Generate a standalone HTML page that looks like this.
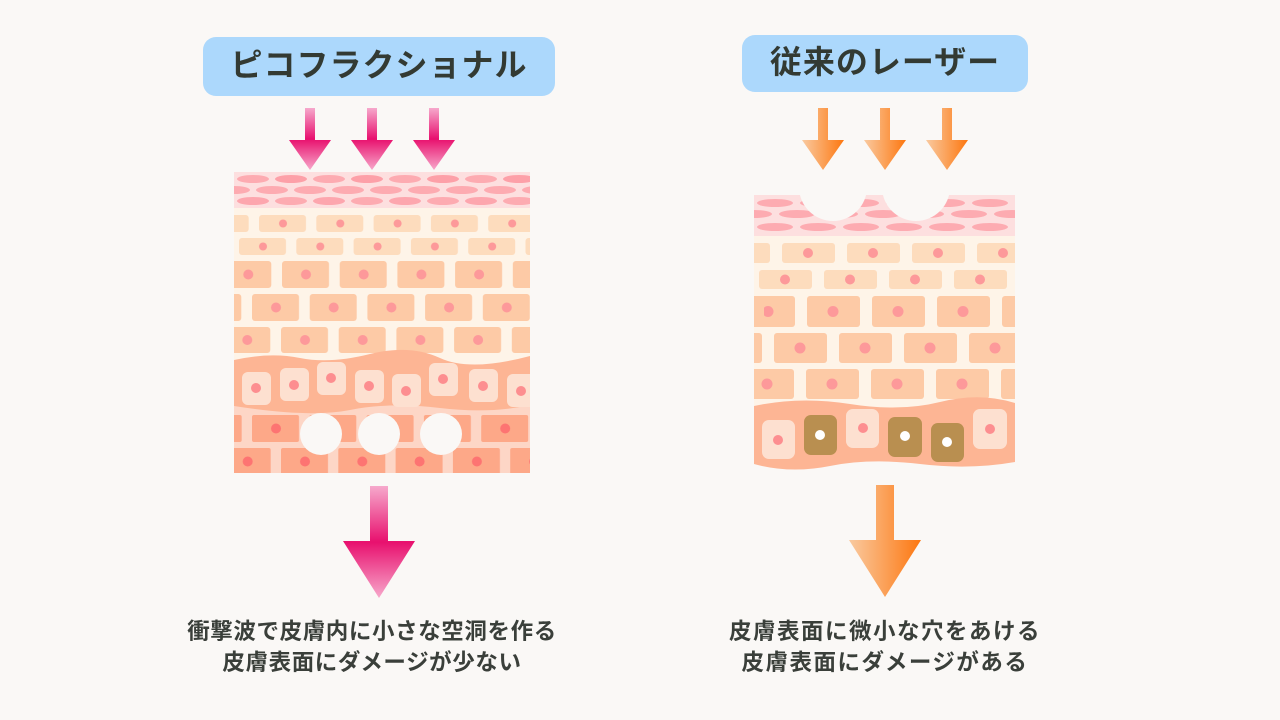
<!DOCTYPE html>
<html><head><meta charset="utf-8"><style>
html,body{margin:0;padding:0;background:#faf8f6;}
body{width:1280px;height:720px;position:relative;overflow:hidden;font-family:"Liberation Sans","Noto Sans CJK JP",sans-serif;}
.lbl{position:absolute;background:#acd8fc;border-radius:13px;color:#333a33;font-weight:bold;font-size:32px;text-align:center;letter-spacing:1px;}
.cap{position:absolute;width:500px;text-align:center;color:#3a3f3a;font-weight:bold;font-size:22.5px;line-height:31px;letter-spacing:0.6px;}
</style></head><body>
<div class="lbl" style="left:203px;top:37px;width:352px;height:59px;line-height:57px;">ピコフラクショナル</div>
<div class="lbl" style="left:742px;top:35px;width:286px;height:57px;line-height:55px;">従来のレーザー</div>
<div class="cap" style="left:122px;top:616px;">衝撃波で皮膚内に小さな空洞を作る<br>皮膚表面にダメージが少ない</div>
<div class="cap" style="left:635px;top:616px;letter-spacing:1.5px;">皮膚表面に微小な穴をあける<br>皮膚表面にダメージがある</div>
<svg width="1280" height="720" style="position:absolute;left:0;top:0" xmlns="http://www.w3.org/2000/svg">
<defs>
<linearGradient id="pk" x1="0" y1="0" x2="0" y2="1"><stop offset="0" stop-color="#f6a9cc"/><stop offset="0.5" stop-color="#e8106e"/><stop offset="1" stop-color="#f7a8cb"/></linearGradient>
<linearGradient id="or" x1="0" y1="0" x2="1" y2="0"><stop offset="0" stop-color="#f9caa0"/><stop offset="1" stop-color="#fd7710"/></linearGradient>
<symbol id="sa" overflow="visible"><path d="M-5 0H5V32H21L0 62L-21 32H-5Z"/></symbol>
<symbol id="ba" overflow="visible"><path d="M-9 0H9V55H36L0 112L-36 55H-9Z"/></symbol>
<pattern id="ov" patternUnits="userSpaceOnUse" x="234" y="172" width="76" height="36"><ellipse cx="19" cy="7" rx="16" ry="4" fill="#fdabb1"/><ellipse cx="57" cy="7" rx="16" ry="4" fill="#fda0a8"/><ellipse cx="38" cy="18" rx="16" ry="4" fill="#fdabb1"/><ellipse cx="0" cy="18" rx="16" ry="4" fill="#fdabb1"/><ellipse cx="76" cy="18" rx="16" ry="4" fill="#fdabb1"/><ellipse cx="19" cy="29" rx="16" ry="4" fill="#fda6ae"/><ellipse cx="57" cy="29" rx="16" ry="4" fill="#fdabb1"/></pattern>
<pattern id="l1" patternUnits="userSpaceOnUse" x="259" y="215" width="57.3" height="40"><rect x="0" y="0" width="47" height="17" rx="3" fill="#fddcbd"/><circle cx="24" cy="8.5" r="4" fill="#fd999a"/></pattern>
<pattern id="l2" patternUnits="userSpaceOnUse" x="239" y="238" width="57.3" height="40"><rect x="0" y="0" width="47" height="17" rx="3" fill="#fddcbd"/><circle cx="24" cy="8.5" r="4" fill="#fd999a"/></pattern>
<pattern id="l3" patternUnits="userSpaceOnUse" x="282" y="261" width="57.7" height="60"><rect x="0" y="0" width="47" height="27" rx="3" fill="#fdcaa6"/><circle cx="24" cy="13.5" r="5" fill="#fd999a"/></pattern>
<pattern id="l4" patternUnits="userSpaceOnUse" x="252" y="294" width="57.7" height="60"><rect x="0" y="0" width="47" height="27" rx="3" fill="#fdcaa6"/><circle cx="24" cy="13.5" r="5" fill="#fd999a"/></pattern>
<pattern id="l5" patternUnits="userSpaceOnUse" x="281" y="327" width="57.7" height="60"><rect x="0" y="0" width="47" height="26" rx="3" fill="#fdcaa6"/><circle cx="24" cy="13" r="5" fill="#fd999a"/></pattern>
<pattern id="d1" patternUnits="userSpaceOnUse" x="252" y="415" width="57.3" height="80"><rect x="0" y="0" width="47" height="27" rx="2" fill="#fda888"/><circle cx="24" cy="13.5" r="5" fill="#fd7472"/></pattern>
<pattern id="d2" patternUnits="userSpaceOnUse" x="281" y="448" width="57.3" height="80"><rect x="0" y="0" width="47" height="27" rx="2" fill="#fda888"/><circle cx="24" cy="13.5" r="5" fill="#fd7472"/></pattern>
<pattern id="ov2" patternUnits="userSpaceOnUse" x="754" y="196" width="86" height="40"><ellipse cx="21" cy="7" rx="18" ry="4" fill="#fdabb1"/><ellipse cx="64" cy="7" rx="18" ry="4" fill="#fdabb1"/><ellipse cx="43" cy="18" rx="18" ry="4" fill="#fdabb1"/><ellipse cx="0" cy="18" rx="18" ry="4" fill="#fdabb1"/><ellipse cx="86" cy="18" rx="18" ry="4" fill="#fdabb1"/><ellipse cx="21" cy="31" rx="18" ry="4" fill="#fdabb1"/><ellipse cx="64" cy="31" rx="18" ry="4" fill="#fdabb1"/></pattern>
<pattern id="r1" patternUnits="userSpaceOnUse" x="782" y="243" width="65" height="50"><rect x="0" y="0" width="53" height="20" rx="3" fill="#fddcbd"/><circle cx="26" cy="10" r="5" fill="#fd999a"/></pattern>
<pattern id="r2" patternUnits="userSpaceOnUse" x="759" y="270" width="65" height="50"><rect x="0" y="0" width="53" height="19" rx="3" fill="#fddcbd"/><circle cx="26" cy="9.5" r="5" fill="#fd999a"/></pattern>
<pattern id="r3" patternUnits="userSpaceOnUse" x="807" y="296" width="65" height="80"><rect x="0" y="0" width="53" height="31" rx="3" fill="#fdcaa6"/><circle cx="26" cy="15.5" r="5.5" fill="#fd999a"/></pattern>
<pattern id="r4" patternUnits="userSpaceOnUse" x="774" y="333" width="65" height="80"><rect x="0" y="0" width="53" height="30" rx="3" fill="#fdcaa6"/><circle cx="26" cy="15" r="5.5" fill="#fd999a"/></pattern>
<pattern id="r5" patternUnits="userSpaceOnUse" x="806" y="369" width="65" height="80"><rect x="0" y="0" width="53" height="30" rx="3" fill="#fdcaa6"/><circle cx="26" cy="15" r="5.5" fill="#fd999a"/></pattern>
<clipPath id="cl"><rect x="234" y="172" width="296" height="301"/></clipPath>
<clipPath id="cr"><rect x="754" y="195" width="261" height="275"/></clipPath>
</defs>

<g fill="url(#pk)"><use href="#sa" x="310" y="108"/><use href="#sa" x="372" y="108"/><use href="#sa" x="434" y="108"/></g>
<g fill="url(#or)"><use href="#sa" x="823" y="108"/><use href="#sa" x="885" y="108"/><use href="#sa" x="947" y="108"/></g>
<use href="#ba" x="379" y="486" fill="url(#pk)"/>
<use href="#ba" x="885" y="485" fill="url(#or)"/>

<g clip-path="url(#cl)">
<rect x="234" y="172" width="296" height="36" fill="#fddfdf"/>
<rect x="234" y="172" width="296" height="36" fill="url(#ov)"/>
<rect x="234" y="208" width="296" height="160" fill="#fef4e8"/>
<rect x="234" y="215" width="296" height="17" fill="url(#l1)"/>
<rect x="234" y="238" width="296" height="17" fill="url(#l2)"/>
<rect x="234" y="261" width="296" height="27" fill="url(#l3)"/>
<rect x="234" y="294" width="296" height="27" fill="url(#l4)"/>
<rect x="234" y="327" width="296" height="26" fill="url(#l5)"/>
<rect x="234" y="400" width="296" height="73" fill="#fdd6c6"/>
<rect x="234" y="415" width="296" height="27" fill="url(#d1)"/>
<rect x="234" y="448" width="296" height="27" fill="url(#d2)"/>
<path d="M234 360 Q270 352 300 358 T370 354 T440 358 T530 356 V405 Q490 414 440 408 T350 410 T234 406Z" fill="#fdb594"/>
<g fill="#fde0d0">
<rect x="242" y="372" width="29" height="33" rx="6"/><rect x="280" y="368" width="29" height="33" rx="6"/><rect x="317" y="362" width="29" height="33" rx="6"/><rect x="355" y="370" width="29" height="33" rx="6"/><rect x="392" y="374" width="29" height="33" rx="6"/><rect x="429" y="363" width="29" height="33" rx="6"/><rect x="469" y="369" width="29" height="33" rx="6"/><rect x="507" y="374" width="29" height="33" rx="6"/>
</g>
<g fill="#fd8e90">
<circle cx="256" cy="388" r="5"/><circle cx="294" cy="385" r="5"/><circle cx="331" cy="378" r="5"/><circle cx="369" cy="386" r="5"/><circle cx="406" cy="391" r="5"/><circle cx="443" cy="379" r="5"/><circle cx="483" cy="386" r="5"/><circle cx="521" cy="391" r="5"/>
</g>
<g fill="#faf8f6"><circle cx="321" cy="434" r="21"/><circle cx="379" cy="434" r="21"/><circle cx="441" cy="434" r="21"/></g>
</g>

<g clip-path="url(#cr)">
<rect x="754" y="195" width="261" height="41" fill="#fddfdf"/>
<rect x="754" y="195" width="261" height="41" fill="url(#ov2)"/>
<rect x="754" y="236" width="261" height="175" fill="#fef4e8"/>
<rect x="754" y="243" width="261" height="20" fill="url(#r1)"/>
<rect x="754" y="270" width="261" height="19" fill="url(#r2)"/>
<rect x="754" y="296" width="261" height="31" fill="url(#r3)"/>
<rect x="754" y="333" width="261" height="30" fill="url(#r4)"/>
<rect x="754" y="369" width="261" height="30" fill="url(#r5)"/>
<rect x="754" y="296" width="10" height="31" rx="3" fill="#fdcaa6"/>
<path d="M754 406 Q800 396 850 404 T940 402 T1015 403 V462 Q970 470 920 464 T830 466 T754 464Z" fill="#fdb594"/>
<rect x="762" y="420" width="33" height="39" rx="7" fill="#fde0d0"/><circle cx="778" cy="440" r="5" fill="#fd8e90"/>
<rect x="804" y="415" width="33" height="40" rx="7" fill="#b98f50"/><circle cx="820" cy="435" r="5" fill="#fff"/>
<rect x="846" y="409" width="33" height="39" rx="7" fill="#fde0d0"/><circle cx="863" cy="428" r="5" fill="#fd8e90"/>
<rect x="888" y="417" width="34" height="40" rx="7" fill="#b98f50"/><circle cx="905" cy="436" r="5" fill="#fff"/>
<rect x="931" y="423" width="33" height="39" rx="7" fill="#b98f50"/><circle cx="947" cy="442" r="5" fill="#fff"/>
<rect x="973" y="409" width="34" height="40" rx="7" fill="#fde0d0"/><circle cx="990" cy="429" r="5" fill="#fd8e90"/>
<g fill="#faf8f6"><circle cx="833" cy="187" r="34"/><circle cx="916" cy="187" r="34"/></g>
</g>
</svg>
</body></html>
